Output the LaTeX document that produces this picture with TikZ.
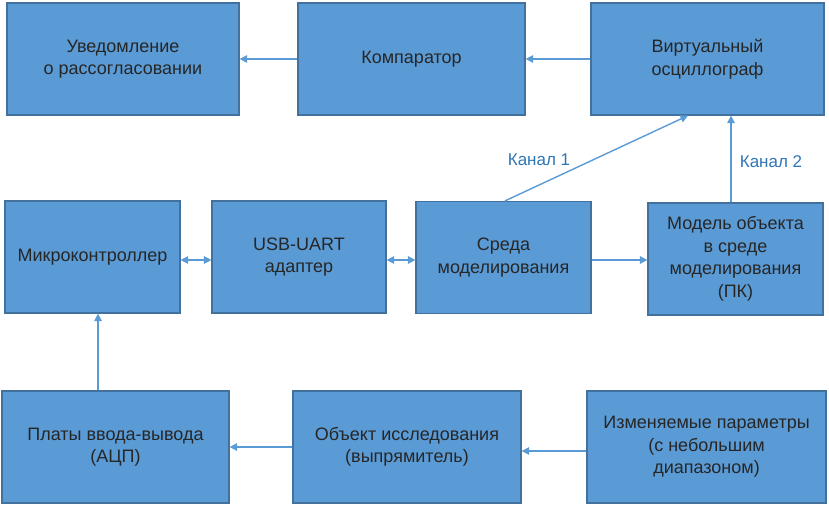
\documentclass[tikz,border=0pt]{standalone}
\usepackage{fontspec}
\setmainfont{Liberation Sans}
\usetikzlibrary{arrows.meta}
\definecolor{boxfill}{HTML}{5B9BD5}
\definecolor{boxdraw}{HTML}{41719C}
\definecolor{arrowc}{HTML}{5B9BD5}
\definecolor{labelc}{HTML}{2E75B6}
\tikzset{
  blk/.style={draw=boxdraw, line width=1.2pt, fill=boxfill, minimum height=112pt, align=center, inner sep=2pt, font=\fontsize{18}{22.5}\selectfont, text=black!85},
  conn/.style={draw=arrowc, line width=1.4pt, -{Triangle[length=7.5pt,width=7.5pt]}},
  dconn/.style={draw=arrowc, line width=1.4pt, {Triangle[length=7.5pt,width=7.5pt]}-{Triangle[length=7.5pt,width=7.5pt]}},
  lbl/.style={text=labelc, font=\fontsize{17}{20}\selectfont}
}
\begin{document}
\begin{tikzpicture}[x=1pt,y=-1pt]
\useasboundingbox (0,0) rectangle (829,505);
% top row
\node[blk, minimum width=232pt] (n1) at (123,59) {Уведомление\\о рассогласовании};
\node[blk, minimum width=227pt] (n2) at (411.5,59) {Компаратор};
\node[blk, minimum width=233pt] (n3) at (707.5,59) {Виртуальный\\осциллограф};
% middle row
\node[blk, minimum width=175pt] (m1) at (92.5,257) {Микроконтроллер};
\node[blk, minimum width=174pt] (m2) at (299,257) {USB-UART\\адаптер};
\node[blk, minimum width=175pt] (m3) at (503.5,257.5) {Среда\\моделирования};
\node[blk, minimum width=175pt] (m4) at (735.5,259) {Модель объекта\\в среде\\моделирования\\(ПК)};
% bottom row
\node[blk, minimum width=227pt] (b1) at (115.5,447) {Платы ввода-вывода\\(АЦП)};
\node[blk, minimum width=228pt] (b2) at (407,447) {Объект исследования\\(выпрямитель)};
\node[blk, minimum width=239pt] (b3) at (706.5,447) {Изменяемые параметры\\(с небольшим\\диапазоном)};
% connectors
\draw[conn] (n2.west |- 0,59) -- (n1.east |- 0,59);
\draw[conn] (n3.west |- 0,59) -- (n2.east |- 0,59);
\draw[dconn] (m1.east |- 0,260) -- (m2.west |- 0,260);
\draw[dconn] (m2.east |- 0,260) -- (m3.west |- 0,260);
\draw[conn] (m3.east |- 0,260) -- (m4.west |- 0,260);
\coordinate (c1) at (505,0);
\coordinate (c2) at (688,0);
\coordinate (c3) at (731,0);
\draw[conn] (m3.north -| c1) -- (n3.south -| c2);
\draw[conn] (m4.north -| c3) -- (n3.south -| c3);
\coordinate (c4) at (98,0);
\draw[conn] (b1.north -| c4) -- (m1.south -| c4);
\draw[conn] (b2.west |- 0,447) -- (b1.east |- 0,447);
\draw[conn] (b3.west |- 0,451) -- (b2.east |- 0,451);
% labels
\node[lbl] (k1) at (539,160) {Канал 1};
\node[lbl] (k2) at (771,162) {Канал 2};
\end{tikzpicture}
\end{document}
